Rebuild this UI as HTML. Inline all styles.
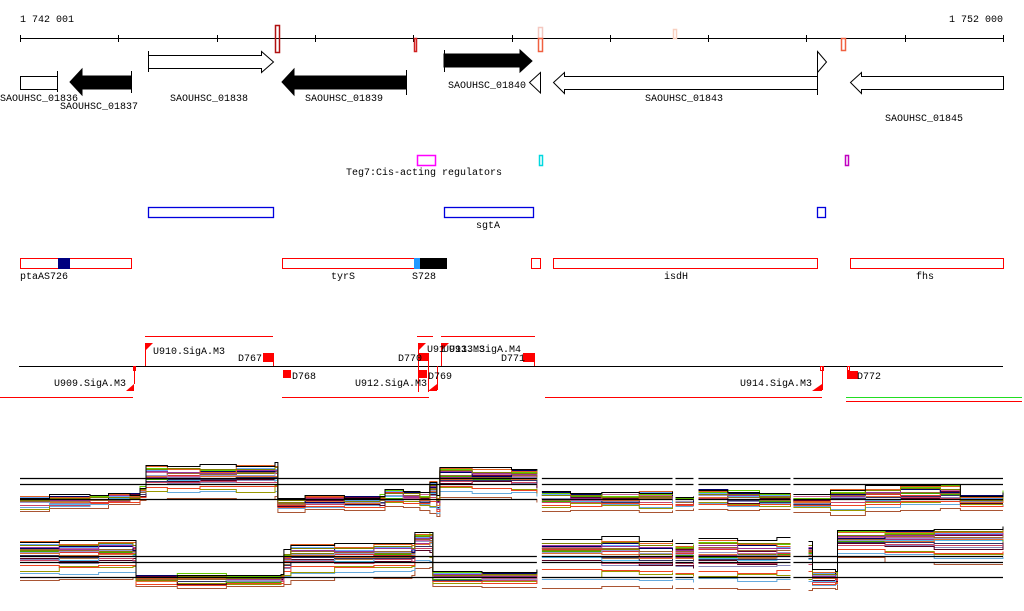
<!DOCTYPE html>
<html><head><meta charset="utf-8"><style>
body{margin:0;background:#fff;}
svg{display:block;font-family:"Liberation Mono","DejaVu Sans Mono",monospace;font-size:10px;}
</style></head><body>
<svg id="chart" width="1024" height="611" viewBox="0 0 1024 611" xmlns="http://www.w3.org/2000/svg">
<rect width="1024" height="611" fill="#fff"/>
<g>
<text x="20" y="22">1 742 001</text>
<text x="1003" y="22" text-anchor="end">1 752 000</text>
<line x1="20" y1="38.5" x2="1003" y2="38.5" stroke="#000"/>
<g id="ticks"></g>
<rect x="275.5" y="25.5" width="4" height="27" fill="none" stroke="#b01010" stroke-width="1.5"/>
<rect x="414.5" y="38.5" width="2" height="13" fill="none" stroke="#d02020" stroke-width="1.5"/>
<rect x="538.5" y="27.5" width="4" height="11" fill="none" stroke="#f4c8c0" stroke-width="1.5"/>
<rect x="538.5" y="38.5" width="4" height="13" fill="none" stroke="#f06040" stroke-width="1.5"/>
<rect x="673.5" y="29.5" width="3" height="9" fill="none" stroke="#f8d0c0" stroke-width="1.5"/>
<rect x="841.5" y="38.5" width="4" height="12" fill="none" stroke="#f06040" stroke-width="1.5"/>
</g>
<g stroke="#000" stroke-width="1">
<rect x="20.5" y="76.5" width="37" height="13" fill="#fff"/>
<line x1="57.5" y1="71" x2="57.5" y2="92"/>
<polygon points="70,82 82,69 82,76 131,76 131,89 82,89 82,95" fill="#000"/>
<line x1="131.5" y1="71" x2="131.5" y2="93"/>
<polygon points="148.5,55.5 261.5,55.5 261.5,51.5 273.5,62 261.5,72.5 261.5,68.5 148.5,68.5" fill="#fff"/>
<line x1="148.5" y1="51" x2="148.5" y2="72"/>
<polygon points="282,82 294,69 294,76 406,76 406,89 294,89 294,95" fill="#000"/>
<line x1="406.5" y1="70" x2="406.5" y2="95"/>
<polygon points="444,54 520,54 520,50 532,61 520,72 520,67 444,67" fill="#000"/>
<line x1="444.5" y1="50" x2="444.5" y2="72"/>
<polygon points="529.5,82.5 540.5,72.5 540.5,93" fill="#fff"/>
<polygon points="553.5,82.5 564.5,72.5 564.5,76.5 817.5,76.5 817.5,89.5 564.5,89.5 564.5,93.5" fill="#fff"/>
<line x1="817.5" y1="70" x2="817.5" y2="95"/>
<polygon points="817.5,51.5 826.5,62 817.5,72.5" fill="#fff"/>
<polygon points="850.5,82.5 861.5,72.5 861.5,76.5 1003.5,76.5 1003.5,89.5 861.5,89.5 861.5,93.5" fill="#fff"/>
</g>
<g>
<text x="0" y="101">SAOUHSC_01836</text>
<text x="60" y="109">SAOUHSC_01837</text>
<text x="170" y="101">SAOUHSC_01838</text>
<text x="305" y="101">SAOUHSC_01839</text>
<text x="448" y="88">SAOUHSC_01840</text>
<text x="645" y="101">SAOUHSC_01843</text>
<text x="885" y="121">SAOUHSC_01845</text>
</g>
<g>
<rect x="417.5" y="155.5" width="18" height="10" fill="none" stroke="#ff00ff" stroke-width="1.5"/>
<rect x="539.5" y="155.5" width="3" height="10" fill="none" stroke="#00d8e0" stroke-width="1.5"/>
<rect x="845.5" y="155.5" width="3" height="10" fill="none" stroke="#c000c0" stroke-width="1.5"/>
<text x="424" y="175" text-anchor="middle">Teg7:Cis-acting regulators</text>
</g>
<g fill="none" stroke="#0000dd" stroke-width="1.3">
<rect x="148.5" y="207.5" width="125" height="10"/>
<rect x="444.5" y="207.5" width="89" height="10"/>
<rect x="817.5" y="207.5" width="8" height="10"/>
<text x="488" y="228" text-anchor="middle" fill="#000" stroke="none">sgtA</text>
</g>
<g>
<rect x="20.5" y="258.5" width="111" height="10" fill="none" stroke="#f00"/>
<rect x="58" y="258" width="12" height="11" fill="#000080"/>
<rect x="282.5" y="258.5" width="133" height="10" fill="none" stroke="#f00"/>
<rect x="414" y="258" width="6" height="11" fill="#2299ff"/>
<rect x="420" y="258" width="27" height="11" fill="#000"/>
<rect x="531.5" y="258.5" width="9" height="10" fill="none" stroke="#f00"/>
<rect x="553.5" y="258.5" width="264" height="10" fill="none" stroke="#f00"/>
<rect x="850.5" y="258.5" width="153" height="10" fill="none" stroke="#f00"/>
<text x="20" y="279">ptaAS726</text>
<text x="331" y="279">tyrS</text>
<text x="412" y="279">S728</text>
<text x="676" y="279" text-anchor="middle">isdH</text>
<text x="925" y="279" text-anchor="middle">fhs</text>
</g>
<g>
<line x1="19" y1="366.5" x2="1003" y2="366.5" stroke="#000"/>
<g stroke="#f00" fill="none">
<line x1="145" y1="336.5" x2="273" y2="336.5"/>
<line x1="417" y1="336.5" x2="433" y2="336.5"/>
<line x1="441" y1="336.5" x2="535" y2="336.5"/>
<line x1="0" y1="397.5" x2="133" y2="397.5"/>
<line x1="282" y1="397.5" x2="429" y2="397.5"/>
<line x1="545" y1="397.5" x2="822" y2="397.5"/>
<line x1="846" y1="397.5" x2="1022" y2="397.5" stroke="#22dd22"/>
<line x1="846" y1="401.5" x2="1022" y2="401.5"/>
<line x1="134.5" y1="366" x2="134.5" y2="384"/>
<rect x="133.5" y="366.5" width="2" height="4"/>
<line x1="145.5" y1="343" x2="145.5" y2="366"/>
<line x1="273.5" y1="353" x2="273.5" y2="366"/>
<line x1="418.5" y1="343" x2="418.5" y2="392"/>
<line x1="428.5" y1="353" x2="428.5" y2="392"/>
<line x1="437.5" y1="366" x2="437.5" y2="390"/>
<line x1="441.5" y1="343" x2="441.5" y2="366"/>
<line x1="534.5" y1="353" x2="534.5" y2="366"/>
<line x1="822.5" y1="366" x2="822.5" y2="390"/>
<rect x="820.5" y="366.5" width="3" height="4"/>
<rect x="847.5" y="366.5" width="2" height="4"/>
</g>
<g fill="#f00">
<polygon points="126,391 134,384 134,391"/>
<polygon points="145,343 153,343 145,351"/>
<rect x="263" y="353" width="10" height="9"/>
<rect x="283" y="370" width="8" height="8"/>
<polygon points="428,391 437,384 437,391"/>
<polygon points="418,343 426,343 418,351"/>
<rect x="418" y="353" width="10" height="8"/>
<rect x="418" y="370" width="9" height="8"/>
<polygon points="441,343 449,343 441,351"/>
<rect x="523" y="353" width="11" height="9"/>
<polygon points="812,391 822,384 822,391"/>
<rect x="847" y="371" width="11" height="8"/>
</g>
<text x="126" y="386" text-anchor="end">U909.SigA.M3</text>
<text x="153" y="354">U910.SigA.M3</text>
<text x="262" y="361" text-anchor="end">D767</text>
<text x="292" y="379">D768</text>
<text x="427" y="386" text-anchor="end">U912.SigA.M3</text>
<text x="398" y="361">D770</text>
<text x="428" y="379">D769</text>
<text x="427" y="352">U91</text>
<text x="443" y="352">U913.M3</text>
<text x="449" y="352">U913.SigA.M4</text>
<text x="501" y="361">D771</text>
<text x="812" y="386" text-anchor="end">U914.SigA.M3</text>
<text x="857" y="379">D772</text>
</g>
<g id="expr"></g>
</svg>
<script>
// tiling-array expression data: positions in bp offset from 1 742 001
const segments = [[0,5258],[5309,6638],[6668,6851],[6902,7838],[7868,10000]];
const topPos = [0,300,712,900,1119,1221,1282,1500,1831,2200,2594,2624,2900,3300,3662,3713,3900,4068,4170,4241,4272,4600,5000,5258, 5309,5600,5919,6300,6638, 6668,6851, 6902,7200,7523,7838, 7868,8245,8600,8957,9363,9567,10000];
const topHi  = [2,3,4,5,5,12,34,33,33,34,35,1,3,2,4,10,8,5,18,2,32,31,31,30, 8,6,5,7,6, 2,2, 10,8,6,6, 3,10,12,14,14,4,8];
const topLo  = [-8,-7,-6,-4,-3,2,2,3,4,4,5,-10,-9,-9,-8,-5,-6,-8,-10,-15,5,3,2,0, -10,-9,-8,-9,-9, -8,-8, -8,-8,-8,-8, -10,-12,-10,-8,-8,-9,-8];
const botPos = [0,400,800,1150,1180,1600,2100,2655,2685,2756,3200,3600,3987,4017,4170,4200,4700,5258, 5309,5919,6300,6638, 6668,6851, 6902,7300,7700,8021,8062,8296,8316,8800,9300,10000];
const botHi  = [35,34,36,35,0,2,1,2,25,32,31,33,32,45,45,5,4,5, 38,38,35,36, 34,34, 38,36,37,36,5,5,45,47,48,50];
const botLo  = [0,-1,0,0,-8,-9,-8,-8,-5,0,1,1,2,10,12,-8,-9,-8, -8,-8,-9,-8, -10,-10, -10,-11,-10,-10,-10,-10,20,16,15,14];
const seriesFrac = [1.0,0.96,0.93,0.91,0.89,0.87,0.85,0.83,0.81,0.79,0.77,0.75,0.73,0.71,0.69,0.67,0.64,0.61,0.58,0.55,0.5,0.44,0.36,0.25,0.12,0.0];
const seriesJitter = [0,2,-1,3,0,-2,1,-3,-1,2,3,-1,0,1,-2,0,2,-3,1,2,-1,1,0,-2,3,-1,0];
const refLinesTop = [22,16,1];
const refLinesBot = [21,15,0];
const seriesColors = ["#000000","#808000","#e06020","#66cc00","#993399","#000066","#66aaff","#996633","#cc6699","#660033","#9999cc","#dd3333","#808000","#e07030","#44aa00","#aa3388","#333366","#55bbee","#aa7744","#cc4466","#550022","#8888bb","#ee4422","#999900","#66aadd","#aa5533"];

const NS="http://www.w3.org/2000/svg";
const X0=20, X1=1003, SPAN=10000;
function xScale(p){return X0+(p/SPAN)*(X1-X0);}
function yTop(v){return 500-v;}
function yBot(v){return 577-v;}

const ticks=document.getElementById('ticks');
for(let i=0;i<=10;i++){
  const l=document.createElementNS(NS,'line');
  const x=Math.round(xScale(i*1000))+0.5;
  l.setAttribute('x1',x);l.setAttribute('x2',x);l.setAttribute('y1',35);l.setAttribute('y2',42);
  l.setAttribute('stroke','#000');
  
  
  ticks.appendChild(l);
}

const g=document.getElementById('expr');
function drawTrack(pos,hi,lo,ys,refs,name){
  for(let s=seriesFrac.length-1;s>=0;s--){
    let d='';
    segments.forEach(function(seg){
      let first=true;
      for(let k=0;k<pos.length;k++){
        if(pos[k]<seg[0]||pos[k]>seg[1]) continue;
        const j=seriesJitter[(s*5+k*3)%seriesJitter.length];
        const v=lo[k]+(hi[k]-lo[k])*seriesFrac[s]+j;
        const x=xScale(pos[k]).toFixed(1), y=Math.round(ys(v))+0.5;
        if(first){d+='M'+x+' '+y;first=false;}
        else d+='H'+x+'V'+y;
      }
      if(!first) d+='H'+xScale(seg[1]).toFixed(1);
    });
    const p=document.createElementNS(NS,'path');
    p.setAttribute('d',d);p.setAttribute('fill','none');
    p.setAttribute('stroke',seriesColors[s]);p.setAttribute('stroke-width','1');
    
    
    g.appendChild(p);
  }
  segments.forEach(function(seg){
    refs.forEach(function(r){
      const l=document.createElementNS(NS,'line');
      l.setAttribute('x1',xScale(seg[0]));l.setAttribute('x2',xScale(seg[1]));
      l.setAttribute('y1',Math.round(ys(r))+0.5);l.setAttribute('y2',Math.round(ys(r))+0.5);
      l.setAttribute('stroke','#000');l.setAttribute('stroke-width','1.3');
      
      
      g.appendChild(l);
    });
  });
}
drawTrack(topPos,topHi,topLo,yTop,refLinesTop,'plus-strand');
drawTrack(botPos,botHi,botLo,yBot,refLinesBot,'minus-strand');
</script>
</body></html>
